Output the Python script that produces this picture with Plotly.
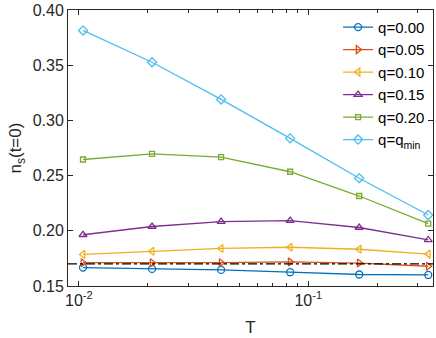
import numpy as np
import plotly.graph_objects as go

# temperatures (log scale)
T = [1 / 96, 1 / 48, 1 / 24, 1 / 12, 1 / 6, 1 / 3]

ns_q000 = [0.1667, 0.1655, 0.1646, 0.1625, 0.1604, 0.1600]
ns_q005 = [0.1711, 0.1710, 0.1711, 0.1718, 0.1708, 0.1679]
ns_q010 = [0.1786, 0.1815, 0.1840, 0.1851, 0.1833, 0.1789]
ns_q015 = [0.1964, 0.2039, 0.2083, 0.2092, 0.2030, 0.1917]
ns_q020 = [0.2646, 0.2696, 0.2667, 0.2535, 0.2315, 0.2065]
ns_qmin = [0.3815, 0.3527, 0.3190, 0.2837, 0.2476, 0.2143]

ref_level = 0.1700

series = [
    ("q=0.00", ns_q000, "#0072BD", "circle-open"),
    ("q=0.05", ns_q005, "#D95319", "triangle-right-open"),
    ("q=0.10", ns_q010, "#EDB120", "triangle-left-open"),
    ("q=0.15", ns_q015, "#7E2F8E", "triangle-up-open"),
    ("q=0.20", ns_q020, "#77AC30", "square-open"),
    ("q=q<sub>min</sub>", ns_qmin, "#4DBEEE", "diamond-open"),
]

y_ticks = [0.15, 0.20, 0.25, 0.30, 0.35, 0.40]
x_ticks = [0.01, 0.1]
x_ticktext = ["10<sup>-2</sup>", "10<sup>-1</sup>"]

fig = go.Figure()
for name, vals, color, sym in series:
    size = 5 if sym == "square-open" else 7
    fig.add_trace(
        go.Scatter(x=T, y=vals, mode="lines+markers", name=name,
                   line=dict(color=color, width=1.3),
                   marker=dict(symbol=sym, size=size, color=color,
                               line=dict(width=1.3, color=color)))
    )

fig.add_hline(y=ref_level, line=dict(color="black", width=1.3, dash="dashdot"))

axis_col = "#262626"
fig.update_xaxes(
    type="log", range=[np.log10(0.00896), np.log10(0.3496)],
    tickvals=x_ticks, ticktext=x_ticktext,
    ticks="inside", ticklen=5, tickcolor=axis_col,
    minor=dict(ticks="inside", ticklen=3, tickcolor=axis_col, dtick="D1"),
    showline=True, linecolor=axis_col, linewidth=1, mirror="ticks",
    showgrid=False, zeroline=False,
    title=dict(text="T", font=dict(size=17, color=axis_col), standoff=12),
    tickfont=dict(size=16, color=axis_col),
)
fig.update_yaxes(
    range=[0.15, 0.40], tickvals=y_ticks, tickformat=".2f",
    ticks="inside", ticklen=5, tickcolor=axis_col,
    showline=True, linecolor=axis_col, linewidth=1, mirror="ticks",
    showgrid=False, zeroline=False, ticklabeloverflow="allow",
    title=dict(text="n<sub>s</sub>(t=0)", font=dict(size=17, color=axis_col), standoff=6),
    tickfont=dict(size=16, color=axis_col),
)
fig.update_layout(
    width=436, height=338,
    margin=dict(l=68, r=2, t=5, b=52),
    plot_bgcolor="white", paper_bgcolor="white",
    font=dict(family="Liberation Sans, Arial, sans-serif", color=axis_col),
    legend=dict(x=0.992, y=0.997, xanchor="right", yanchor="top",
                bgcolor="rgba(255,255,255,0)", borderwidth=0,
                font=dict(size=15, color="black"), tracegroupgap=0),
    showlegend=True,
)

fig.write_html("out.html", config={"displayModeBar": False},
               post_script="document.body.style.margin='0';")
